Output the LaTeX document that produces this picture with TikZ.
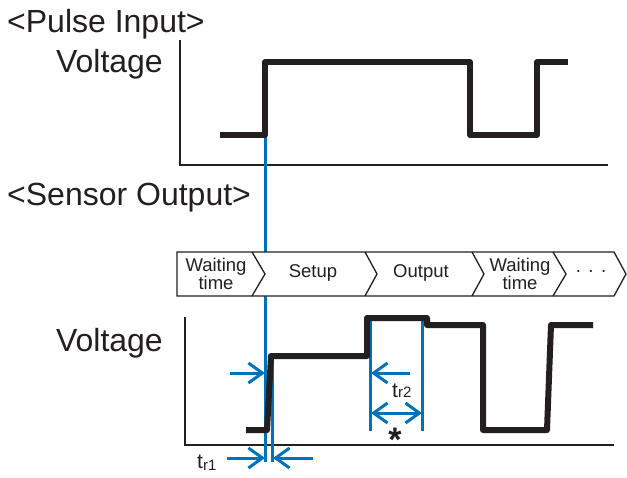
\documentclass[tikz,border=0pt]{standalone}
\usepackage{fontspec}
\setmainfont{Liberation Sans}
\usetikzlibrary{arrows.meta}
\definecolor{ink}{HTML}{231F20}
\definecolor{myblue}{HTML}{0072BC}
\begin{document}
\begin{tikzpicture}[x=1pt,y=-1pt,
  big/.style={inner sep=0pt, font=\fontsize{32}{34}\selectfont, text=ink},
  small/.style={inner sep=0pt, font=\fontsize{18.5}{17}\selectfont, text=ink, align=center},
  lbl/.style={inner sep=0pt, font=\fontsize{21}{22}\selectfont, text=ink},
  axis/.style={draw=ink, line width=2.5pt},
  wave/.style={draw=ink, line width=6pt, line join=round},
  bl/.style={draw=myblue, line width=3pt},
  barb/.style={bl, -{Straight Barb[length=14pt,width=20pt]}},
  dbarb/.style={bl, {Straight Barb[length=14pt,width=20pt]}-{Straight Barb[length=14pt,width=20pt]}},
  chev/.style={draw=ink, line width=1.3pt, line join=miter},
]
\useasboundingbox (0,0) rectangle (627,477);
\fill[white] (0,0) rectangle (627,477);

% titles
\node[big, anchor=base west] (pulse) at (7,32) {<Pulse Input>};
\node[big, anchor=base east] (v1) at (163,72) {Voltage};
\node[big, anchor=base west] (sensor) at (7,205) {<Sensor Output>};
\node[big, anchor=base east] (v2) at (163,351) {Voltage};

% top axes
\coordinate (a1t) at (180,40);
\coordinate (a1o) at (180,165);
\coordinate (a1r) at (608,165);
\draw[axis] (a1t) -- (a1o) -- (a1r);

% bottom axes
\coordinate (a2t) at (185,317);
\coordinate (a2o) at (185,445);
\coordinate (a2r) at (614,445);
\draw[axis] (a2t) -- (a2o) -- (a2r);

% blue reference lines
\coordinate (b1s) at (265,137);
\coordinate (b1e) at (265,462);
\coordinate (b2s) at (272.7,356);
\coordinate (b2e) at (272.7,462);
\coordinate (b3s) at (370.7,320);
\coordinate (b3e) at (370.7,431);
\coordinate (b4s) at (422.3,320);
\coordinate (b4e) at (422.3,431);
\draw[bl] (b1s) -- (b1e);
\draw[bl] (b2s) -- (b2e);
\draw[bl] (b3s) -- (b3e);
\draw[bl] (b4s) -- (b4e);

% sequence row
\filldraw[chev, fill=white] (177,252) -- (614,252) -- (626,274) -- (614,296) -- (177,296) -- cycle;
\draw[chev] (252,252) -- (265,274) -- (252,296);
\draw[chev] (365,252) -- (377,274) -- (365,296);
\draw[chev] (472,252) -- (484,274) -- (472,296);
\draw[chev] (553,252) -- (566,274) -- (553,296);
\node[small] (w1) at (216,274) {Waiting\\time};
\node[small] (setup) at (313,273) {Setup};
\node[small] (output) at (421,273) {Output};
\node[small] (w2) at (520,274) {Waiting\\time};
\node[small] (dots) at (591,273) {·\hspace{6.5pt}·\hspace{6.5pt}·};

% waveforms
\draw[wave] (220,135) -- (265,135) -- (265,62) -- (470,62) -- (470,135) -- (537,135) -- (537,62) -- (568,62);
\draw[wave] (246,430) -- (267,430) -- (271,356) -- (367,356) -- (367,318) -- (427,318) -- (427,325) -- (483,325) -- (483,430) -- (547,430) -- (551,325) -- (593,325);

% arrows
\coordinate (r1a) at (230,373);
\coordinate (r1b) at (265,373);
\draw[barb] (r1a) -- (r1b);
\coordinate (r2a) at (227,458);
\coordinate (r2b) at (265,458);
\draw[barb] (r2a) -- (r2b);
\coordinate (r3a) at (313,458);
\coordinate (r3b) at (273,458);
\draw[barb] (r3a) -- (r3b);
\coordinate (r4a) at (410,373);
\coordinate (r4b) at (371,373);
\draw[barb] (r4a) -- (r4b);
\coordinate (r5a) at (371,413);
\coordinate (r5b) at (422,413);
\draw[dbarb] (r5a) -- (r5b);

% labels
\node[lbl, anchor=base west] (tr1) at (197,468) {t\raisebox{-2pt}{\fontsize{15}{15}\selectfont r1}};
\node[lbl, anchor=base west] (tr2) at (392,397) {t\fontsize{15}{15}\selectfont r2};
\node[inner sep=0pt, font=\fontsize{34}{34}\bfseries, text=ink, anchor=base] (star) at (395,451) {*};
\end{tikzpicture}
\end{document}
